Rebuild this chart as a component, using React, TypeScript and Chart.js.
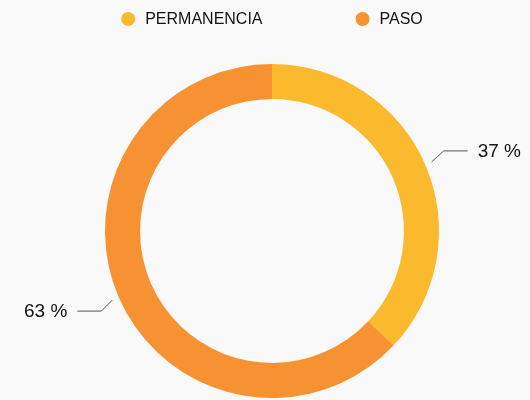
import React, { useEffect, useRef } from "react";
import { Chart, registerables } from "chart.js";

Chart.register(...registerables);

const categories = ["PERMANENCIA", "PASO"];
const values = [37, 63];
const colors = ["#FBB92E", "#F69231"];
const valueLabels = ["37 %", "63 %"];

const FONT = "'Liberation Sans', Arial, sans-serif";

const legendPlugin = {
  id: "customLegend",
  afterDraw(chart: any) {
    const ctx = chart.ctx;
    ctx.save();
    ctx.font = `16px ${FONT}`;
    const r = 7;
    const gapText = 10;
    const itemGap = 93;
    const widths = categories.map((c) => 2 * r + gapText + ctx.measureText(c).width);
    const total = widths.reduce((a, b) => a + b, 0) + itemGap * (categories.length - 1);
    const cx = (chart.chartArea.left + chart.chartArea.right) / 2;
    let x = cx - total / 2;
    const y = 19;
    categories.forEach((c, i) => {
      ctx.fillStyle = colors[i];
      ctx.beginPath();
      ctx.arc(x + r, y, r, 0, Math.PI * 2);
      ctx.fill();
      ctx.fillStyle = "#111";
      ctx.textBaseline = "middle";
      ctx.textAlign = "left";
      ctx.fillText(c, x + 2 * r + gapText, y + 1);
      x += widths[i] + itemGap;
    });
    ctx.restore();
  },
};

const leaderPlugin = {
  id: "leader",
  afterDraw(chart: any) {
    const ctx = chart.ctx;
    const meta = chart.getDatasetMeta(0);
    meta.data.forEach((arc: any, i: number) => {
      const { x, y, outerRadius, startAngle, endAngle } = arc.getProps(
        ["x", "y", "outerRadius", "startAngle", "endAngle"],
        true
      );
      const mid = (startAngle + endAngle) / 2;
      const cos = Math.cos(mid);
      const sin = Math.sin(mid);
      const right = cos >= 0;
      const x0 = x + cos * (outerRadius + 7);
      const y0 = y + sin * (outerRadius + 7);
      const x1 = x0 + (right ? 12 : -11);
      const y1 = y0 + (sin < 0 ? -11 : 11);
      const x2 = x1 + (right ? 24 : -24);
      ctx.save();
      ctx.strokeStyle = "#555";
      ctx.lineWidth = 1;
      ctx.beginPath();
      ctx.moveTo(x0, y0);
      ctx.lineTo(x1, y1);
      ctx.lineTo(x2, y1);
      ctx.stroke();
      ctx.fillStyle = "#111";
      ctx.font = `19px ${FONT}`;
      ctx.textBaseline = "middle";
      ctx.textAlign = right ? "left" : "right";
      ctx.fillText(valueLabels[i], x2 + (right ? 10 : -10), y1 + 1);
      ctx.restore();
    });
  },
};

export default function App() {
  const ref = useRef<HTMLCanvasElement>(null);
  useEffect(() => {
    document.body.style.margin = "0";
    document.body.style.background = "#F9F9F9";
    const chart = new Chart(ref.current!, {
      type: "doughnut",
      data: {
        labels: categories,
        datasets: [
          {
            data: values,
            backgroundColor: colors,
            borderWidth: 0,
            hoverOffset: 0,
          },
        ],
      },
      options: {
        animation: false,
        responsive: false,
        cutout: "79%",
        layout: { padding: { left: 60, right: 46, top: 64, bottom: 2 } },
        plugins: {
          tooltip: { enabled: false },
          legend: { display: false },
        },
      },
      plugins: [legendPlugin, leaderPlugin],
    });
    return () => chart.destroy();
  }, []);
  return (
    <div style={{ width: 530, height: 400, background: "#F9F9F9" }}>
      <canvas ref={ref} width={530} height={400} />
    </div>
  );
}
